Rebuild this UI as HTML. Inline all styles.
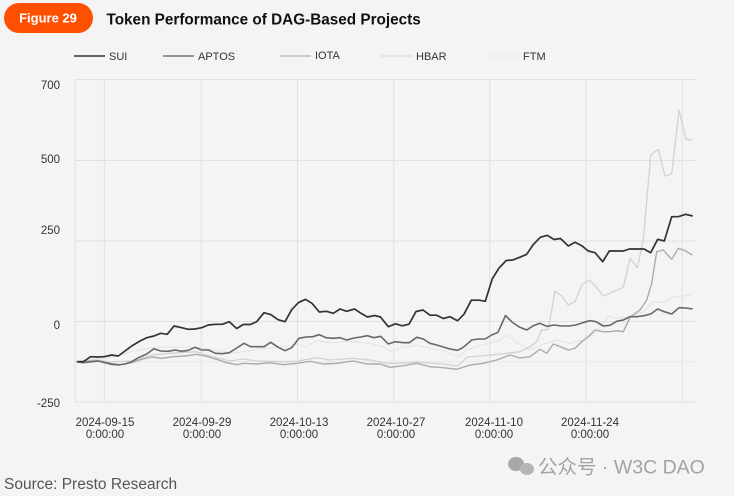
<!DOCTYPE html>
<html><head><meta charset="utf-8"><style>
html,body{margin:0;padding:0;background:#f4f4f4;}
svg{display:block;font-family:"Liberation Sans","Noto Sans CJK SC",sans-serif;}
</style></head><body>
<svg width="734" height="496" viewBox="0 0 734 496" xmlns="http://www.w3.org/2000/svg">
<rect width="734" height="496" fill="#f4f4f4"/>
<!-- header -->
<rect x="4" y="3" width="89" height="30" rx="15" fill="#fe5000"/>
<text x="48" y="22.3" font-size="13" font-weight="bold" fill="#fff" text-anchor="middle">Figure 29</text>
<text x="106.5" y="24.5" font-size="15.3" font-weight="bold" fill="#111">Token Performance of DAG-Based Projects</text>
<!-- legend -->
<g font-size="11" fill="#333">
<line x1="74" y1="56" x2="105" y2="56" stroke="#333" stroke-width="1.5"/><text x="109" y="60">SUI</text>
<line x1="163" y1="56" x2="194" y2="56" stroke="#777" stroke-width="1.5"/><text x="198" y="60">APTOS</text>
<line x1="280" y1="56" x2="311" y2="56" stroke="#bbb" stroke-width="1.5"/><text x="315" y="59">IOTA</text>
<line x1="381" y1="56" x2="412" y2="56" stroke="#ddd" stroke-width="1.5"/><text x="416" y="60">HBAR</text>
<line x1="488" y1="56" x2="519" y2="56" stroke="#ebebeb" stroke-width="1.5"/><text x="523" y="60">FTM</text>
</g>
<!-- grid -->
<g stroke="#e1e1e1" stroke-width="1">
<line x1="75" y1="79.5" x2="696" y2="79.5"/>
<line x1="75" y1="160.5" x2="696" y2="160.5"/>
<line x1="75" y1="241" x2="696" y2="241"/>
<line x1="75" y1="321.5" x2="696" y2="321.5"/>
<line x1="75" y1="402" x2="696" y2="402"/>
<line x1="75" y1="79.5" x2="75" y2="402"/>
<line x1="104.3" y1="79.5" x2="104.3" y2="402"/>
<line x1="201.3" y1="79.5" x2="201.3" y2="402"/>
<line x1="297.5" y1="79.5" x2="297.5" y2="402"/>
<line x1="393.7" y1="79.5" x2="393.7" y2="402"/>
<line x1="489.7" y1="79.5" x2="489.7" y2="402"/>
<line x1="586" y1="79.5" x2="586" y2="402"/>
<line x1="682.3" y1="79.5" x2="682.3" y2="402"/>
</g>
<line x1="75" y1="361.7" x2="696" y2="361.7" stroke="#eaeaea" stroke-width="1"/>
<!-- y labels -->
<g font-size="11.5" fill="#333" text-anchor="end">
<text x="60" y="89">700</text>
<text x="60" y="163">500</text>
<text x="60" y="234">250</text>
<text x="60" y="329">0</text>
<text x="60" y="407">-250</text>
</g>
<!-- x labels -->
<g font-size="11.5" fill="#333" text-anchor="middle">
<text x="105" y="426">2024-09-15</text><text x="105" y="438">0:00:00</text>
<text x="202" y="426">2024-09-29</text><text x="202" y="438">0:00:00</text>
<text x="299" y="426">2024-10-13</text><text x="299" y="438">0:00:00</text>
<text x="396" y="426">2024-10-27</text><text x="396" y="438">0:00:00</text>
<text x="494" y="426">2024-11-10</text><text x="494" y="438">0:00:00</text>
<text x="590" y="426">2024-11-24</text><text x="590" y="438">0:00:00</text>
</g>
<!-- series -->
<g fill="none" stroke-linejoin="round">
<!-- FTM -->
<polyline stroke="#e6e6e6" stroke-width="1.3" points="76.7,361.7 90,360 105,358 118,356 130,351.7 145,349 160,347 175,347.5 190,347 201,348 215,350 230,353 243.3,351.7 263.3,348.3 286.7,346.7 296.7,344 305,346.7 316.7,340.7 330,342.7 343.3,341.7 356.7,341.7 370,343.3 383.3,346.7 390,351.7 403.3,347.3 416.7,345 430,348.3 443.3,350.7 458.3,356.7 466.7,350 480,345 490,343.3 500,340 506.7,335 516.7,342.7 530,349.3 543.3,344.3 556.7,340 570,343.3 583.3,340 596.7,331.7 608.3,316 616.7,318.3 630,316.7 643.3,311.7 653.3,301.7 663.3,302.7 673.3,296.7 683.3,296 692.3,294.3"/>
<!-- HBAR -->
<polyline stroke="#d2d2d2" stroke-width="1.3" points="76.7,361.7 96.7,360 110,362 131.7,361 151.7,355 170,353.3 196.7,351.7 213,356.7 230,361 243.3,359 256.7,361 283.3,361.7 296.7,361.3 316.7,357.7 330,360 353.3,358.3 370,360 386.7,363.3 400,363.3 417,362 443,364 458,366 467,357 480,356 507,353.3 520,351.7 530,346.7 536.7,341.7 541.7,330 548.3,329.3 555,291 561.7,296 568.3,305 575,301.7 581.7,285 589.3,280 596,286.7 603.3,296 613.3,291.7 623.3,287.3 630,258.3 637.3,267.7 643.3,240 650.7,155 658.3,149.3 665,176 671.7,174 679,110 686,139.3 692.7,140"/>
<!-- IOTA -->
<polyline stroke="#ababab" stroke-width="1.4" points="76.7,361.7 96.7,360.7 110,363.3 120,364.7 131.7,362.7 141.7,359.3 151.7,357 161.7,358.3 173.3,356.7 185,356 196.7,354.3 206.7,356.3 216.7,359.3 226.7,362.7 236.7,364.7 243.3,363.3 256.7,364 270,362.7 283.3,364.7 296.7,363.3 310,361.3 323.3,364 336.7,363.3 353.3,361 366.7,364 380,364 390,367.3 403.3,365.7 416.7,363.3 430,366.7 443.3,367.7 456.7,369.3 470,365 483.3,363.3 496.7,360 510,355 520,358 530,356.7 540,349.3 546.7,353.3 553.3,344 561.7,347.3 568.3,350 575,348.3 581.7,341.7 588.3,336.7 595,330 603.3,331.7 610,331.7 616.7,330.7 623.3,331.7 630,317.3 640,310 646.7,300 651.7,283.3 656.7,251.7 663.3,250 671.7,259.3 678.3,248.3 685,250.7 692.3,255"/>
<!-- APTOS -->
<polyline stroke="#686868" stroke-width="1.6" points="76.7,361.7 83.3,362.7 90,362 98.3,361 105,362.7 111.7,364.3 118.3,365 125,364 131.7,361.7 138.3,357.7 146.7,354 154,348.7 160.7,351 168.3,351.3 175,350 181.7,351.3 188.3,350.3 195,347.3 201.7,350 208.3,350 215.7,353.3 222.3,353.7 229.3,352.7 236.7,348 244,343.3 250.7,346.7 257.3,346.7 264,346.7 270.7,342.3 278.3,347.3 285,350.7 291.7,347.7 299,338.3 306,337 312.7,336.7 319.3,334.7 326,337.7 333.3,338.3 340,337.7 346.7,340 354,338 360.7,337 367.3,335.7 374,337.7 380.7,336.3 388.3,344 395,341.7 403.3,342.7 409.3,342.7 416.7,337.3 423.3,339 430,343.3 436.7,345 443.3,347 450,349 457.7,350.3 463.3,347.3 471.7,340 478.3,339 485,339 491.7,335 498,332.3 505.5,315.5 512,322 519.3,327 526.7,330 533.3,325.7 540,323.3 546.7,326.3 554,325 561.7,326 569,326 575.7,325 582.7,322.7 590,320.7 596,321.7 603.3,326 610,325.3 616.7,321.3 623.3,320 630,316.7 636.7,316.7 644,315.7 650.7,314 657.7,309 664.3,311.7 671.7,314 679,307.7 685.7,308 692.7,309"/>
<!-- SUI -->
<polyline stroke="#333" stroke-width="1.7" points="76.7,361.7 83.3,361.7 90.7,356.7 96.7,357 104.3,356.7 111.7,355 118.3,356 125,351 131.7,346 140,341 146.7,337.7 154,336 160.7,333.3 167.3,334.3 174,326 181.7,327.7 188.3,329.3 195,329 201.7,327.7 208.3,325 215.7,324.3 222.3,324.3 229.3,321.7 236.7,328.5 243.3,324.5 250.3,324.5 256.7,321.7 264,312.7 271,314.7 278,319.7 285,321.7 291.7,309.7 298.3,302.7 305.5,299.3 312,303.3 319.3,312 326.3,311.3 333.3,313.3 340,309 346.7,311.3 354.5,309 361,313.3 367.5,317 374.5,315.5 380.5,317 388.3,326.7 395.5,323.8 402.3,325.8 409,324.2 416,311.5 423,310 430,315.2 436.7,315.2 443.3,318.5 450,316.7 457.5,320.8 464,314.2 471.3,300.2 478.8,300.2 485.3,301.2 492.2,279 498.8,268.3 506.2,260.5 512.8,260 519.7,257.3 526.7,254.3 533.3,244.5 540.3,237.3 547.3,235.3 554,239.5 560.5,238.5 568.3,246 575,242.3 581.7,245.7 588.3,251 595,252.7 602.7,261.7 609.3,251 616.7,251 623.3,251 629.3,249 636.7,249 644,249 650.7,252.7 657.7,239.3 664.3,241 671.7,216.7 678.3,216.7 685.7,214.3 692.7,216"/>
</g>
<!-- watermark -->
<g fill="#a8a8a8">
<ellipse cx="516" cy="464" rx="8" ry="7"/>
<ellipse cx="527" cy="469" rx="7" ry="6" fill="#b5b5b5"/>
</g>
<text x="538" y="473.5" font-size="19.5" fill="#a3a3a3">公众号 · W3C DAO</text>
<text x="4" y="489" font-size="15.5" fill="#555">Source: Presto Research</text>
</svg>
</body></html>
